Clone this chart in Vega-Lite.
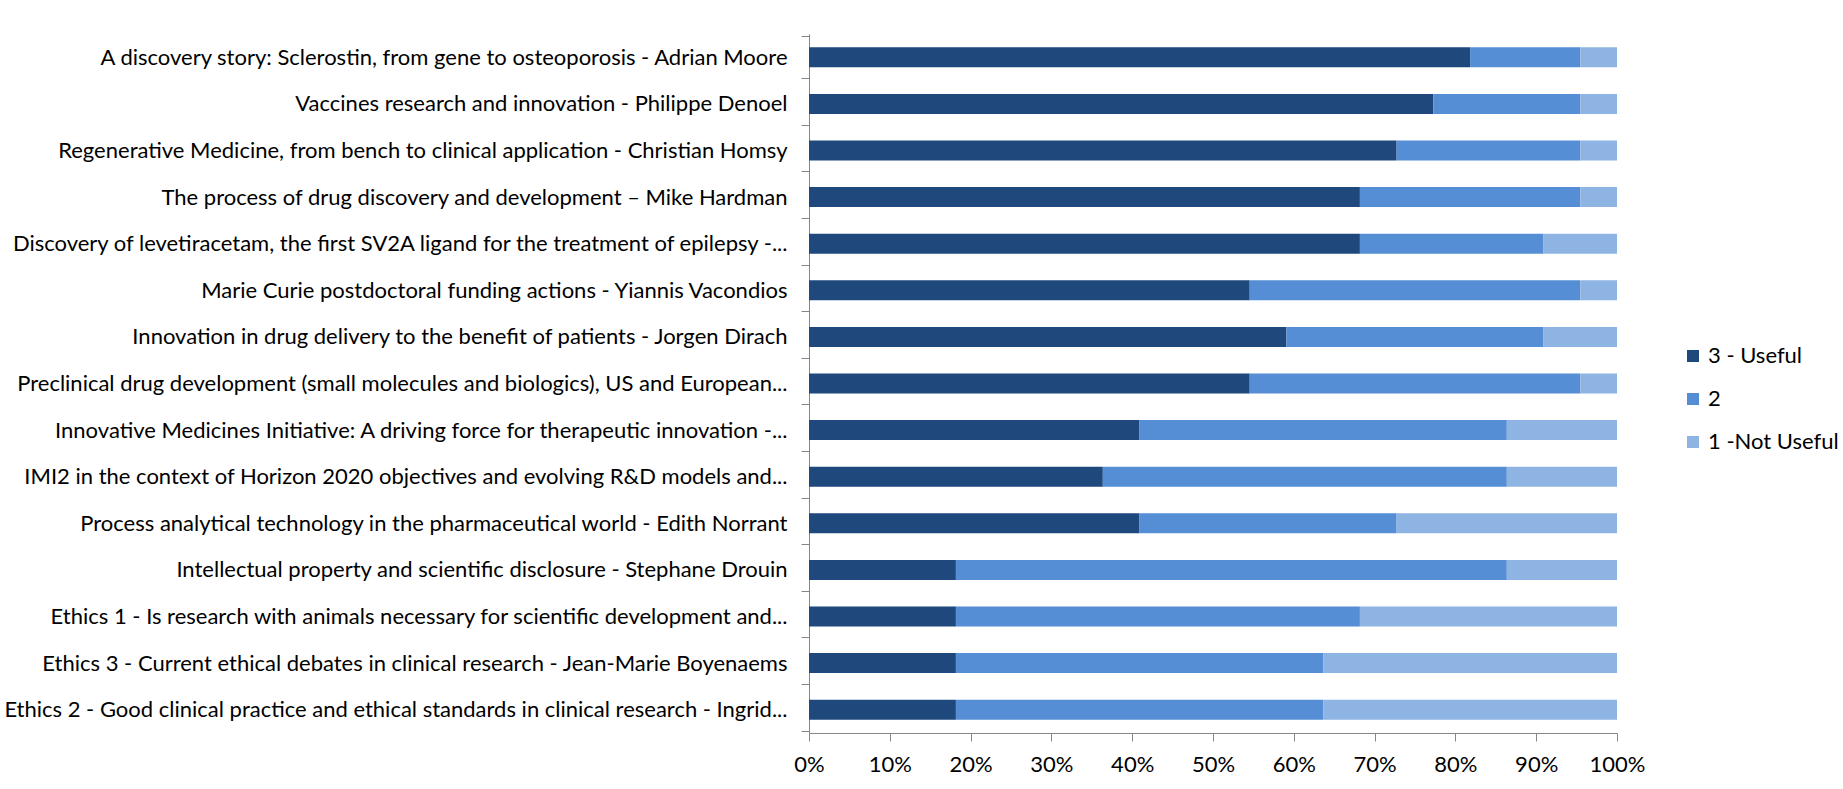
{
  "$schema": "https://vega.github.io/schema/vega-lite/v6.json",
  "width": 808,
  "height": 699,
  "autosize": {"type": "none"},
  "padding": {"left": 809, "top": 34, "right": 226, "bottom": 56},
  "background": "white",
  "data": {
    "values": [
      {"topic": "A discovery story:  Sclerostin, from gene to osteoporosis - Adrian Moore", "rating": "3 - Useful", "score": 3, "count": 18},
      {"topic": "A discovery story:  Sclerostin, from gene to osteoporosis - Adrian Moore", "rating": "2", "score": 2, "count": 3},
      {"topic": "A discovery story:  Sclerostin, from gene to osteoporosis - Adrian Moore", "rating": "1 -Not Useful", "score": 1, "count": 1},
      {"topic": "Vaccines research and innovation - Philippe Denoel", "rating": "3 - Useful", "score": 3, "count": 17},
      {"topic": "Vaccines research and innovation - Philippe Denoel", "rating": "2", "score": 2, "count": 4},
      {"topic": "Vaccines research and innovation - Philippe Denoel", "rating": "1 -Not Useful", "score": 1, "count": 1},
      {"topic": "Regenerative Medicine, from bench to clinical application - Christian Homsy", "rating": "3 - Useful", "score": 3, "count": 16},
      {"topic": "Regenerative Medicine, from bench to clinical application - Christian Homsy", "rating": "2", "score": 2, "count": 5},
      {"topic": "Regenerative Medicine, from bench to clinical application - Christian Homsy", "rating": "1 -Not Useful", "score": 1, "count": 1},
      {"topic": "The process of drug discovery and development – Mike Hardman", "rating": "3 - Useful", "score": 3, "count": 15},
      {"topic": "The process of drug discovery and development – Mike Hardman", "rating": "2", "score": 2, "count": 6},
      {"topic": "The process of drug discovery and development – Mike Hardman", "rating": "1 -Not Useful", "score": 1, "count": 1},
      {"topic": "Discovery of levetiracetam, the first SV2A ligand for the treatment of epilepsy -...", "rating": "3 - Useful", "score": 3, "count": 15},
      {"topic": "Discovery of levetiracetam, the first SV2A ligand for the treatment of epilepsy -...", "rating": "2", "score": 2, "count": 5},
      {"topic": "Discovery of levetiracetam, the first SV2A ligand for the treatment of epilepsy -...", "rating": "1 -Not Useful", "score": 1, "count": 2},
      {"topic": "Marie Curie postdoctoral funding actions - Yiannis Vacondios", "rating": "3 - Useful", "score": 3, "count": 12},
      {"topic": "Marie Curie postdoctoral funding actions - Yiannis Vacondios", "rating": "2", "score": 2, "count": 9},
      {"topic": "Marie Curie postdoctoral funding actions - Yiannis Vacondios", "rating": "1 -Not Useful", "score": 1, "count": 1},
      {"topic": "Innovation in drug delivery to the benefit of patients - Jorgen Dirach", "rating": "3 - Useful", "score": 3, "count": 13},
      {"topic": "Innovation in drug delivery to the benefit of patients - Jorgen Dirach", "rating": "2", "score": 2, "count": 7},
      {"topic": "Innovation in drug delivery to the benefit of patients - Jorgen Dirach", "rating": "1 -Not Useful", "score": 1, "count": 2},
      {"topic": "Preclinical drug development (small molecules and biologics), US and European...", "rating": "3 - Useful", "score": 3, "count": 12},
      {"topic": "Preclinical drug development (small molecules and biologics), US and European...", "rating": "2", "score": 2, "count": 9},
      {"topic": "Preclinical drug development (small molecules and biologics), US and European...", "rating": "1 -Not Useful", "score": 1, "count": 1},
      {"topic": "Innovative Medicines Initiative: A driving force for therapeutic innovation -...", "rating": "3 - Useful", "score": 3, "count": 9},
      {"topic": "Innovative Medicines Initiative: A driving force for therapeutic innovation -...", "rating": "2", "score": 2, "count": 10},
      {"topic": "Innovative Medicines Initiative: A driving force for therapeutic innovation -...", "rating": "1 -Not Useful", "score": 1, "count": 3},
      {"topic": "IMI2 in the context of Horizon 2020 objectives and evolving R&D models and...", "rating": "3 - Useful", "score": 3, "count": 8},
      {"topic": "IMI2 in the context of Horizon 2020 objectives and evolving R&D models and...", "rating": "2", "score": 2, "count": 11},
      {"topic": "IMI2 in the context of Horizon 2020 objectives and evolving R&D models and...", "rating": "1 -Not Useful", "score": 1, "count": 3},
      {"topic": "Process analytical technology in the pharmaceutical world - Edith Norrant", "rating": "3 - Useful", "score": 3, "count": 9},
      {"topic": "Process analytical technology in the pharmaceutical world - Edith Norrant", "rating": "2", "score": 2, "count": 7},
      {"topic": "Process analytical technology in the pharmaceutical world - Edith Norrant", "rating": "1 -Not Useful", "score": 1, "count": 6},
      {"topic": "Intellectual property and scientific disclosure - Stephane Drouin", "rating": "3 - Useful", "score": 3, "count": 4},
      {"topic": "Intellectual property and scientific disclosure - Stephane Drouin", "rating": "2", "score": 2, "count": 15},
      {"topic": "Intellectual property and scientific disclosure - Stephane Drouin", "rating": "1 -Not Useful", "score": 1, "count": 3},
      {"topic": "Ethics 1 - Is research with animals necessary for scientific development and...", "rating": "3 - Useful", "score": 3, "count": 4},
      {"topic": "Ethics 1 - Is research with animals necessary for scientific development and...", "rating": "2", "score": 2, "count": 11},
      {"topic": "Ethics 1 - Is research with animals necessary for scientific development and...", "rating": "1 -Not Useful", "score": 1, "count": 7},
      {"topic": "Ethics 3 - Current ethical debates in clinical research - Jean-Marie Boyenaems", "rating": "3 - Useful", "score": 3, "count": 4},
      {"topic": "Ethics 3 - Current ethical debates in clinical research - Jean-Marie Boyenaems", "rating": "2", "score": 2, "count": 10},
      {"topic": "Ethics 3 - Current ethical debates in clinical research - Jean-Marie Boyenaems", "rating": "1 -Not Useful", "score": 1, "count": 8},
      {"topic": "Ethics 2 - Good clinical practice and ethical standards in clinical research - Ingrid...", "rating": "3 - Useful", "score": 3, "count": 4},
      {"topic": "Ethics 2 - Good clinical practice and ethical standards in clinical research - Ingrid...", "rating": "2", "score": 2, "count": 10},
      {"topic": "Ethics 2 - Good clinical practice and ethical standards in clinical research - Ingrid...", "rating": "1 -Not Useful", "score": 1, "count": 8}
    ]
  },
  "mark": {"type": "bar", "size": 20},
  "encoding": {
    "y": {
      "field": "topic",
      "type": "nominal",
      "sort": null,
      "title": null,
      "axis": {
        "tickBand": "extent",
        "domainColor": "#868686",
        "tickColor": "#868686",
        "tickSize": 8,
        "labelFontSize": 22,
        "labelFont": "Lato",
        "labelColor": "#000000",
        "labelPadding": 14,
        "labelLimit": 900
      }
    },
    "x": {
      "field": "count",
      "type": "quantitative",
      "stack": "normalize",
      "title": null,
      "scale": {"domain": [0, 1], "nice": false},
      "axis": {
        "values": [0, 0.1, 0.2, 0.3, 0.4, 0.5, 0.6, 0.7, 0.8, 0.9, 1],
        "format": ".0%",
        "grid": false,
        "domainColor": "#868686",
        "tickColor": "#868686",
        "tickSize": 8,
        "labelFontSize": 22,
        "labelFont": "Lato",
        "labelColor": "#000000",
        "labelPadding": 13,
        "labelFlush": false,
        "labelOverlap": false
      }
    },
    "color": {
      "field": "rating",
      "type": "nominal",
      "title": null,
      "scale": {
        "domain": ["3 - Useful", "2", "1 -Not Useful"],
        "range": ["#1F497D", "#558ED5", "#8EB4E3"]
      },
      "legend": {
        "orient": "none",
        "legendX": 873,
        "legendY": 311,
        "symbolType": "square",
        "symbolSize": 144,
        "symbolStrokeWidth": 0,
        "labelFontSize": 22,
        "labelFont": "Lato",
        "labelColor": "#000000",
        "labelOffset": 4,
        "rowPadding": 21,
        "padding": 0
      }
    },
    "order": {"field": "score", "type": "quantitative", "sort": "descending"}
  },
  "config": {
    "view": {"stroke": null}
  }
}
